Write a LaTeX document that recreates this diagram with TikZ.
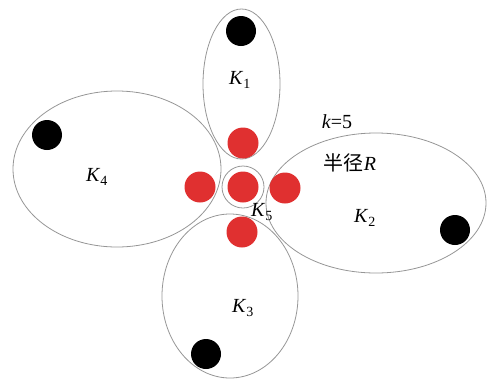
\documentclass[tikz,border=0pt]{standalone}
\usepackage{fontspec}
\setmainfont{Liberation Serif}
\newfontfamily\cjk{Noto Sans CJK SC}
\usetikzlibrary{shapes.geometric}
\definecolor{dotred}{RGB}{224,48,48}
\definecolor{rim}{RGB}{150,150,150}
\newcommand{\kname}[1]{\textit{K}\textsubscript{#1}}
\begin{document}
\begin{tikzpicture}[x=1pt, y=-1pt, font=\fontsize{20}{22}\selectfont,
  cluster/.style={draw=rim, ellipse, line width=0.8pt, inner sep=0pt},
  blackdot/.style={circle, fill=black, minimum size=30pt, inner sep=0pt},
  reddot/.style={circle, fill=dotred, minimum size=31pt, inner sep=0pt}]
\useasboundingbox (0,0) rectangle (487,381);

\node[cluster, minimum width=77pt, minimum height=150pt] (k1) at (241.5,84) {};
\node[cluster, minimum width=208pt, minimum height=156pt] (k4) at (117,169) {};
\node[cluster, minimum width=220pt, minimum height=140pt] (k2) at (376,203) {};
\node[cluster, minimum width=136pt, minimum height=164pt] (k3) at (230,296) {};
\node[cluster, circle, minimum size=42pt] (k5) at (243,187) {};

\node[blackdot] (b1) at (241,31) {};
\node[blackdot] (b4) at (47,135) {};
\node[blackdot] (b2) at (455,230) {};
\node[blackdot] (b3) at (206,354) {};

\node[reddot] (r5) at (243,187) {};
\node[reddot] (rt) at (243,143) {};
\node[reddot] (rl) at (200,187) {};
\node[reddot] (rr) at (285,188) {};
\node[reddot] (rb) at (242,232) {};

\node (l1) at (240,80) {\kname{1}};
\node (l4) at (97,177) {\kname{4}};
\node (l2) at (365,218) {\kname{2}};
\node (l3) at (243,308) {\kname{3}};
\node (l5) at (262,212) {\kname{5}};
\node (kk) at (337,122) {\textit{k}=5};
\node (rad) at (350,163) {{\cjk 半径}\textit{R}};
\end{tikzpicture}
\end{document}
